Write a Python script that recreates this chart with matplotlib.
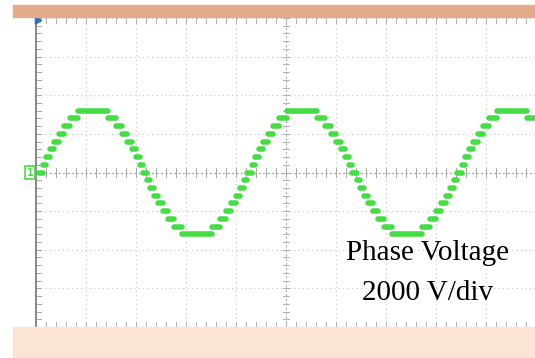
import matplotlib.pyplot as plt
from matplotlib.patches import Rectangle

# step start times (divisions) and phase voltage levels (V)
t = [0.06, 0.14, 0.20, 0.28, 0.36, 0.46, 0.56, 0.68, 0.84,
     1.44, 1.60, 1.72, 1.82, 1.92, 2.00, 2.08, 2.14,
     2.22, 2.28, 2.36, 2.44, 2.54, 2.64, 2.76, 2.92,
     3.52, 3.68, 3.80, 3.90, 4.00, 4.08, 4.16, 4.22,
     4.32, 4.38, 4.46, 4.54, 4.64, 4.74, 4.86, 5.02,
     5.62, 5.78, 5.90, 6.00, 6.10, 6.18, 6.26, 6.32,
     6.42, 6.48, 6.56, 6.64, 6.74, 6.84, 6.96, 7.12,
     7.72, 7.88, 8.00, 8.10, 8.20, 8.28, 8.36, 8.42,
     8.52, 8.58, 8.66, 8.74, 8.84, 8.94, 9.06, 9.22,
     9.82, 9.96]
v = [0, 400, 800, 1200, 1600, 2000, 2400, 2800, 3200,
     2800, 2400, 2000, 1600, 1200, 800, 400, 0,
     -400, -800, -1200, -1600, -2000, -2400, -2800, -3200,
     -2800, -2400, -2000, -1600, -1200, -800, -400, 0,
     400, 800, 1200, 1600, 2000, 2400, 2800, 3200,
     2800, 2400, 2000, 1600, 1200, 800, 400, 0,
     -400, -800, -1200, -1600, -2000, -2400, -2800, -3200,
     -2800, -2400, -2000, -1600, -1200, -800, -400, 0,
     400, 800, 1200, 1600, 2000, 2400, 2800, 3200,
     2800, 2800]

volts_per_div = 2000
green = '#44dd44'

fig = plt.figure(figsize=(5.35, 3.58), dpi=100)
W, H = 535, 358

# top and bottom bars
fig.patches.append(Rectangle((13 / W, 1 - 17 / H), 1, 12 / H, transform=fig.transFigure,
                             color='#e3ab8c', zorder=0))
fig.patches.append(Rectangle((13 / W, 0), 1, 31 / H, transform=fig.transFigure,
                             color='#fbe4d4', zorder=0))

ax = fig.add_axes([36 / W, 1 - 327 / H, 500 / W, 309 / H])
ax.set_xlim(0, 10)
ax.set_ylim(-4 * volts_per_div, 4 * volts_per_div)
ax.set_xticks([])
ax.set_yticks([])
for s in ['top', 'right', 'bottom']:
    ax.spines[s].set_visible(False)
ax.spines['left'].set_color('#8a8a8a')
ax.spines['left'].set_linewidth(1.5)

# scope grid
grid_c = '#c4c4c4'
for i in range(1, 11):
    ax.axvline(i, color=grid_c, lw=0.8, ls=(0, (1, 3)), zorder=1)
for j in range(-4, 5):
    ax.axhline(j * volts_per_div, color=grid_c, lw=0.8, ls=(0, (1, 3)), zorder=1)
ax.axhline(0, color='#a8a8a8', lw=0.8, ls=(0, (2, 2)), zorder=1)
ax.axvline(5, color='#b0b0b0', lw=0.8, ls=(0, (2, 2)), zorder=1)

# small ticks along the centre lines and edges
for k in range(51):
    x = k * 0.2
    ax.plot([x, x], [-250, 250], color='#a8a8a8', lw=0.7, zorder=1)
    ax.plot([x, x], [-8000, -7750], color='#b0b0b0', lw=0.7, zorder=1)
    ax.plot([x, x], [7750, 8000], color='#b0b0b0', lw=0.7, zorder=1)
for k in range(41):
    y = -8000 + k * 400
    ax.plot([4.94, 5.06], [y, y], color='#b0b0b0', lw=0.7, zorder=1)
    ax.plot([0, 0.1], [y, y], color='#a8a8a8', lw=0.7, zorder=1)

# waveform: only the level segments show up on the screen, as blobs
ax.hlines(v[:-1], t[:-1], t[1:], color=green, lw=4, capstyle='round', zorder=3)

# channel and trigger markers
ax.text(-0.05, 0, '1', color=green, fontsize=7, ha='right', va='center', fontweight='bold',
        bbox=dict(boxstyle='square,pad=0.15', fc='white', ec=green, lw=1.2), clip_on=False)
ax.plot([0.02], [7900], marker=(3, 0, 150), color='#2a6fb5', ms=6, clip_on=False, zorder=4)

fig.text(428 / W, 1 - 253 / H, 'Phase Voltage', family='Liberation Serif', fontsize=21,
         ha='center', va='center')
fig.text(428 / W, 1 - 293 / H, '2000 V/div', family='Liberation Serif', fontsize=21,
         ha='center', va='center')

fig.savefig('out.png', dpi=100)
